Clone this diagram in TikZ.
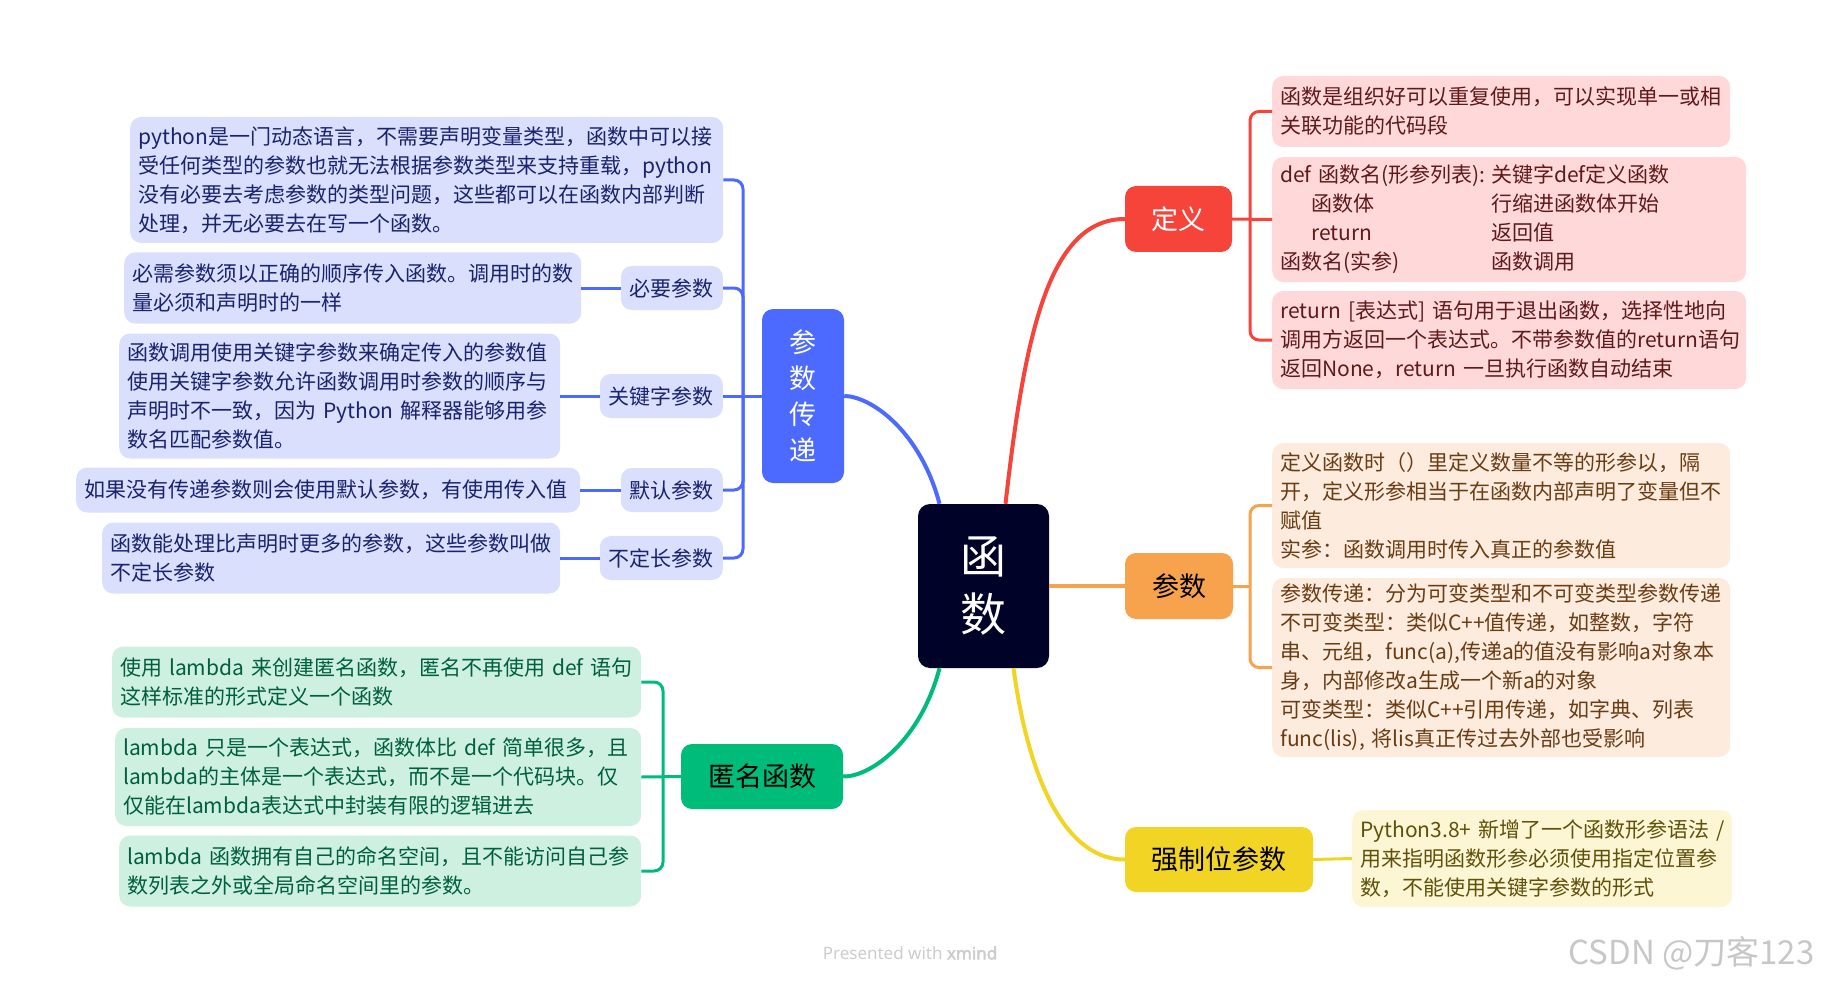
\documentclass[tikz,border=0pt]{standalone}
\usepackage{fontspec}
\setmainfont{Noto Sans CJK SC}
\newfontfamily\markfont{Noto Sans}
\newfontfamily\markboldfont[FakeBold=2.5]{Noto Sans}
\definecolor{rootfill}{RGB}{0,2,40}
\definecolor{redmain}{RGB}{246,68,59}
\definecolor{redleaf}{RGB}{255,217,217}
\definecolor{redtext}{RGB}{95,25,25}
\definecolor{orangemain}{RGB}{247,162,77}
\definecolor{orangeleaf}{RGB}{253,236,221}
\definecolor{orangetext}{RGB}{105,60,20}
\definecolor{yellowmain}{RGB}{242,212,37}
\definecolor{yellowleaf}{RGB}{253,246,212}
\definecolor{yellowtext}{RGB}{95,80,10}
\definecolor{bluemain}{RGB}{76,106,255}
\definecolor{blueleaf}{RGB}{217,223,252}
\definecolor{bluetext}{RGB}{25,35,110}
\definecolor{greenmain}{RGB}{0,188,122}
\definecolor{greenleaf}{RGB}{205,240,225}
\definecolor{greentext}{RGB}{0,95,60}
\tikzset{
    topic/.style={rounded corners=11pt, inner sep=0pt, minimum height=66pt,
        align=center, font=\fontsize{27}{36}\selectfont},
    leaf/.style={rounded corners=11pt, anchor=west, align=left,
        inner xsep=8pt, inner ysep=0pt, font=\fontsize{21}{29}\selectfont},
    subtopic/.style={rounded corners=11pt, fill=blueleaf, text=bluetext, anchor=east,
        inner xsep=9pt, inner ysep=0pt, minimum height=44pt, font=\fontsize{21}{29}\selectfont},
    branch/.style={line width=4pt},
    bracket/.style={line width=3pt, rounded corners=9pt}
}

\begin{document}
\begin{tikzpicture}[x=1pt,y=-1pt]
    \useasboundingbox (0,0) rectangle (1822,984);

    % central topic
    \node[
        rounded corners=12pt,
        fill=rootfill,
        text=white,
        minimum width=131pt,
        minimum height=164pt,
        align=center,
        font=\fontsize{46}{58}\selectfont
    ] (func) at (983.5,586) {函\\数};

    % main topics
    \node[topic, fill=redmain, text=white, minimum width=107pt] (define) at (1178.5,219) {定义};
    \node[topic, fill=orangemain, text=black, minimum width=108pt] (params) at (1179,586) {参数};
    \node[topic, fill=yellowmain, text=black, minimum width=188pt, minimum height=65pt] (posonly) at (1219,859.5) {强制位参数};
    \node[topic, fill=bluemain, text=white, minimum width=82pt, minimum height=174pt] (passing) at (803,396) {参\\数\\传\\递};
    \node[topic, fill=greenmain, text=black, minimum width=162pt, minimum height=65pt] (anon) at (762,776.5) {匿名函数};

    % definition notes
    \node[leaf, fill=redleaf, text=redtext, text width=442pt, minimum height=71pt] (def1) at (1272,111.5)
        {函数是组织好可以重复使用，可以实现单一或相\\关联功能的代码段};
    \node[leaf, fill=redleaf, text=redtext, text width=458pt, minimum height=125pt] (def2) at (1272,219.5)
        {\makebox[211pt][l]{def 函数名(形参列表):}关键字def定义函数\\
         \hspace*{31pt}\makebox[180pt][l]{函数体}行缩进函数体开始\\
         \hspace*{31pt}\makebox[180pt][l]{return}返回值\\
         \makebox[211pt][l]{函数名(实参)}函数调用};
    \node[leaf, fill=redleaf, text=redtext, text width=458pt, minimum height=98pt] (def3) at (1272,340)
        {return [表达式] 语句用于退出函数，选择性地向\\调用方返回一个表达式。不带参数值的return语句\\返回None，return 一旦执行函数自动结束};

    % parameter notes
    \node[leaf, fill=orangeleaf, text=orangetext, text width=442pt, minimum height=125pt] (par1) at (1272,505.5)
        {定义函数时（）里定义数量不等的形参以，隔\\开，定义形参相当于在函数内部声明了变量但不\\赋值\\实参：函数调用时传入真正的参数值};
    \node[leaf, fill=orangeleaf, text=orangetext, text width=442pt, minimum height=179pt] (par2) at (1272,667.5)
        {参数传递：分为可变类型和不可变类型参数传递\\不可变类型：类似C++值传递，如整数，字符\\串、元组，func(a),传递a的值没有影响a对象本\\身，内部修改a生成一个新a的对象\\可变类型：类似C++引用传递，如字典、列表\\func(lis), 将lis真正传过去外部也受影响};

    % positional-only note
    \node[leaf, fill=yellowleaf, text=yellowtext, text width=364pt, minimum height=97pt] (pos1) at (1352,858.5)
        {\mbox{Python3.8+ 新增了一个函数形参语法 /}\\用来指明函数形参必须使用指定位置参\\数，不能使用关键字参数的形式};

    % parameter passing
    \node[leaf, fill=blueleaf, text=bluetext, text width=577pt, minimum height=126pt] (pass0) at (130,180)
        {python是一门动态语言，不需要声明变量类型，函数中可以接\\受任何类型的参数也就无法根据参数类型来支持重载，python\\没有必要去考虑参数的类型问题，这些都可以在函数内部判断\\处理，并无必要去在写一个函数。};
    \node[subtopic] (req) at (723,288) {必要参数};
    \node[subtopic] (kw) at (723,396) {关键字参数};
    \node[subtopic] (dflt) at (723,490) {默认参数};
    \node[subtopic] (varg) at (723,558) {不定长参数};
    \node[leaf, fill=blueleaf, text=bluetext, text width=441pt, minimum height=71pt] (req1) at (124,288)
        {必需参数须以正确的顺序传入函数。调用时的数\\量必须和声明时的一样};
    \node[leaf, fill=blueleaf, text=bluetext, text width=425pt, minimum height=125pt] (kw1) at (119,396)
        {函数调用使用关键字参数来确定传入的参数值\\使用关键字参数允许函数调用时参数的顺序与\\声明时不一致，因为 Python 解释器能够用参\\数名匹配参数值。};
    \node[leaf, fill=blueleaf, text=bluetext, text width=488pt, minimum height=45pt] (dflt1) at (76,490)
        {如果没有传递参数则会使用默认参数，有使用传入值};
    \node[leaf, fill=blueleaf, text=bluetext, text width=442pt, minimum height=71pt] (varg1) at (102,558)
        {函数能处理比声明时更多的参数，这些参数叫做\\不定长参数};

    % anonymous functions
    \node[leaf, fill=greenleaf, text=greentext, text width=513pt, minimum height=71pt] (anon1) at (112,682)
        {使用 lambda 来创建匿名函数，匿名不再使用 def 语句\\这样标准的形式定义一个函数};
    \node[leaf, fill=greenleaf, text=greentext, text width=510pt, minimum height=98pt] (anon2) at (115,777)
        {lambda 只是一个表达式，函数体比 def 简单很多，且\\lambda的主体是一个表达式，而不是一个代码块。仅\\仅能在lambda表达式中封装有限的逻辑进去};
    \node[leaf, fill=greenleaf, text=greentext, text width=506pt, minimum height=71pt] (anon3) at (119,871)
        {lambda 函数拥有自己的命名空间，且不能访问自己参\\数列表之外或全局命名空间里的参数。};

    % branches from the centre
    \draw[branch, redmain] ([xshift=22pt]func.north) .. controls (1025,330) and (1050,219) .. (define.west);
    \draw[branch, orangemain] (func.east) -- (params.west);
    \draw[branch, yellowmain] ([xshift=30pt]func.south) .. controls (1030,790) and (1070,860) .. (posonly.west);
    \draw[branch, bluemain] ([xshift=-44pt]func.north) .. controls (920,430) and (870,396) .. (passing.east);
    \draw[branch, greenmain] ([xshift=-44pt]func.south) .. controls (920,742) and (870,777) .. (anon.east);

    % brackets
    \coordinate (defbar) at (1250,219);
    \coordinate (parbar) at (1250,586);
    \coordinate (passbar) at (743,396);
    \coordinate (anonbar) at (663,777);

    \draw[bracket, redmain] (define.east) -- (def2.west);
    \draw[bracket, redmain] (def1.west) -| (defbar) |- (def3.west);
    \draw[bracket, orangemain] (params.east) -- (parbar);
    \draw[bracket, orangemain] (par1.west) -| (parbar) |- (par2.west);
    \draw[bracket, yellowmain] (posonly.east) -- (pos1.west);
    \draw[bracket, bluemain] (passing.west) -- (kw.east);
    \draw[bracket, bluemain] (pass0.east) -| (passbar) |- (varg.east);
    \draw[bracket, bluemain] (req.east) -| (passbar);
    \draw[bracket, bluemain] (dflt.east) -| (passbar);
    \draw[bracket, bluemain] (req1.east) -- (req.west);
    \draw[bracket, bluemain] (kw1.east) -- (kw.west);
    \draw[bracket, bluemain] (dflt1.east) -- (dflt.west);
    \draw[bracket, bluemain] (varg1.east) -- (varg.west);
    \draw[bracket, greenmain] (anon.west) -- (anon2.east);
    \draw[bracket, greenmain] (anon1.east) -| (anonbar) |- (anon3.east);

    % footer marks
    \node[text=black!20, font=\markfont\fontsize{17}{20}\selectfont] (xmark) at (910,953) {Presented with {\markboldfont xmind}};
    \node[anchor=east, text=black!22, font=\fontsize{33}{38}\selectfont] (csdn) at (1818,953) {CSDN @刀客123};
\end{tikzpicture}
\end{document}
